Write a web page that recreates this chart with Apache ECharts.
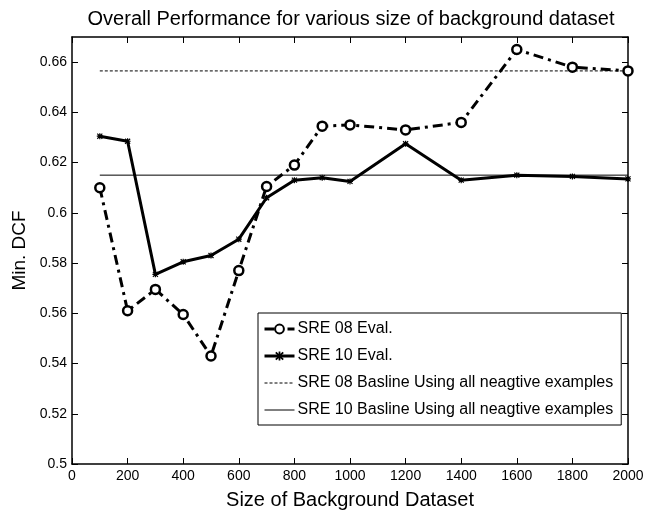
<!DOCTYPE html>
<html><head><meta charset="utf-8">
<script src="https://cdn.jsdelivr.net/npm/echarts@6/dist/echarts.min.js"></script>
<style>html,body{margin:0;padding:0;background:#fff}#c{width:654px;height:513px}</style>
</head><body><div id="c"></div>
<script>
const xValues = [100,200,300,400,500,600,700,800,900,1000,1200,1400,1600,1800,2000];
const sre08 = [0.610,0.561,0.5695,0.5595,0.543,0.577,0.6105,0.619,0.6345,0.635,0.633,0.636,0.665,0.658,0.6565];
const sre10 = [0.6305,0.6285,0.5755,0.5805,0.583,0.5895,0.606,0.613,0.614,0.6125,0.6275,0.613,0.615,0.6145,0.6135];
const base08 = 0.6565;
const base10 = 0.615;
const baseRange = [100, 2000];
const seriesNames = ['SRE 08 Eval.','SRE 10 Eval.','SRE 08 Basline Using all neagtive examples','SRE 10 Basline Using all neagtive examples'];

const F = 'Liberation Sans, Arial, Helvetica, sans-serif';
const pair = (xs, ys) => xs.map((x,i)=>[x, ys[i]]);
const star = 'path://M4,0L6,0L6,10L4,10ZM0,4L10,4L10,6L0,6ZM1.5,0.1L9.9,8.5L8.5,9.9L0.1,1.5ZM8.5,0.1L9.9,1.5L1.5,9.9L0.1,8.5Z';
const chart = echarts.init(document.getElementById('c'));
function mkAxis(extra){
  return Object.assign({
    axisLine:{show:true,onZero:false,lineStyle:{color:'#000',width:1.5}},
    axisTick:{show:true,inside:true,length:6,lineStyle:{color:'#000',width:1}},
    splitLine:{show:false}
  }, extra);
}
chart.setOption({
  animation:false,
  backgroundColor:'#fff',
  title:{text:'Overall Performance for various size of background dataset',left:346,textAlign:'center',top:4,
    textStyle:{fontFamily:F,fontSize:20,fontWeight:'normal',color:'#000'}},
  grid:{left:72,right:26,top:37,bottom:49,outerBoundsMode:'none',containLabel:false},
  legend:{orient:'vertical',left:258,top:313,padding:[8,8,7,5],itemGap:11,itemWidth:30,itemHeight:11,
    borderColor:'#000',borderWidth:1,backgroundColor:'#fff',
    lineStyle:{width:'inherit'},
    textStyle:{fontFamily:F,fontSize:16,color:'#000',padding:[0,0,0,-2]},
    data:seriesNames},
  xAxis:[
    mkAxis({type:'value',min:0,max:2000,interval:200,position:'bottom',
      name:'Size of Background Dataset',nameLocation:'middle',nameGap:26,
      nameTextStyle:{fontFamily:F,fontSize:20,color:'#000'},
      axisLabel:{fontFamily:F,fontSize:14,color:'#000',margin:5,formatter:v=>String(v)}}),
    mkAxis({type:'value',min:0,max:2000,interval:200,position:'top',axisLabel:{show:false}})
  ],
  yAxis:[
    mkAxis({type:'value',min:0.5,max:0.67,interval:0.02,position:'left',
      name:'Min. DCF',nameLocation:'middle',nameGap:38,
      nameTextStyle:{fontFamily:F,fontSize:19,color:'#000'},
      axisLabel:{fontFamily:F,fontSize:14,color:'#000',margin:5,showMaxLabel:false,formatter:v=>String(+v.toFixed(2))}}),
    mkAxis({type:'value',min:0.5,max:0.67,interval:0.02,position:'right',axisLabel:{show:false}})
  ],
  series:[
    {name:seriesNames[0],type:'line',data:pair(xValues,sre08),symbol:'circle',symbolSize:9,
      lineStyle:{color:'#000',width:3,type:[10,5,3,5]},
      itemStyle:{color:'#fff',borderColor:'#000',borderWidth:2.5},z:3},
    {name:seriesNames[1],type:'line',data:pair(xValues,sre10),symbol:star,symbolSize:6,
      lineStyle:{color:'#000',width:3},itemStyle:{color:'#000'},z:3},
    {name:seriesNames[2],type:'line',data:pair(baseRange,[base08,base08]),symbol:'circle',showSymbol:false,
      lineStyle:{color:'#000',width:1,type:[3,2]},itemStyle:{color:'rgba(0,0,0,0)'},z:2},
    {name:seriesNames[3],type:'line',data:pair(baseRange,[base10,base10]),symbol:'circle',showSymbol:false,
      lineStyle:{color:'#000',width:1},itemStyle:{color:'rgba(0,0,0,0)'},z:2}
  ]
});
</script></body></html>
